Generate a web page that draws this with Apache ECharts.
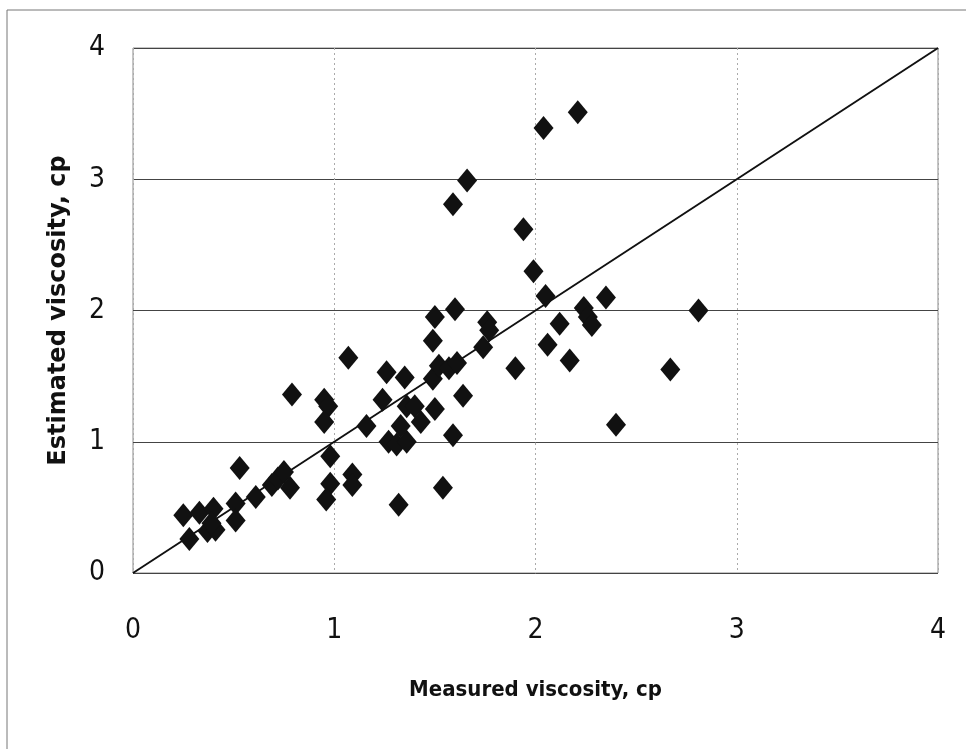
<!DOCTYPE html>
<html>
<head>
<meta charset="utf-8">
<script src="https://cdn.jsdelivr.net/npm/echarts@6/dist/echarts.min.js"></script>
<style>
  html, body { margin: 0; padding: 0; background: #fff; }
</style>
</head>
<body>
<div id="main" style="width: 966px; height: 749px;"></div>
<script>
// measured vs estimated viscosity, cp
var measured = [
  0.28, 0.25, 0.33, 0.40, 0.37, 0.41, 0.39, 0.51, 0.51, 0.53, 0.61, 0.69, 0.72, 0.75, 0.78, 0.79,
  0.95, 0.97, 0.95, 0.98, 0.98, 0.96, 1.09, 1.09, 1.07, 1.16, 1.24, 1.26, 1.35, 1.27, 1.31, 1.36,
  1.33, 1.36, 1.40, 1.43, 1.32, 1.49, 1.52, 1.50, 1.57, 1.61, 1.64, 1.59, 1.54, 1.49, 1.50, 1.60,
  1.74, 1.76, 1.77, 1.90, 2.06, 2.05, 1.99, 2.12, 2.04, 2.21, 1.94, 2.35, 2.24, 2.26, 2.28, 2.17,
  2.67, 2.81, 1.66, 1.59, 2.40
];
var estimated = [
  0.26, 0.44, 0.46, 0.49, 0.32, 0.33, 0.38, 0.53, 0.40, 0.80, 0.58, 0.67, 0.72, 0.77, 0.65, 1.36,
  1.32, 1.27, 1.15, 0.89, 0.68, 0.56, 0.75, 0.67, 1.64, 1.12, 1.32, 1.53, 1.49, 1.00, 0.98, 1.00,
  1.12, 1.27, 1.27, 1.15, 0.52, 1.48, 1.58, 1.25, 1.56, 1.60, 1.35, 1.05, 0.65, 1.77, 1.95, 2.01,
  1.72, 1.91, 1.85, 1.56, 1.74, 2.11, 2.30, 1.90, 3.39, 3.51, 2.62, 2.10, 2.02, 1.95, 1.89, 1.62,
  1.55, 2.00, 2.99, 2.81, 1.13
];
var lineX = [0, 4];
var lineY = [0, 4];

var points = [];
for (var i = 0; i < measured.length; i++) {
  points.push([measured[i], estimated[i]]);
}
var diag = [];
for (var j = 0; j < lineX.length; j++) {
  diag.push([lineX[j], lineY[j]]);
}

var tickFont = "'Liberation Sans Narrow', 'DejaVu Sans Condensed', sans-serif";

var chart = echarts.init(document.getElementById('main'));
chart.setOption({
  animation: false,
  backgroundColor: '#fff',
  grid: {
    left: 133,
    right: 28,
    top: 48,
    bottom: 176,
    show: true,
    borderColor: '#8a8a8a',
    borderWidth: 1
  },
  graphic: [{
    type: 'rect',
    shape: { x: 7, y: 10, width: 980, height: 780 },
    style: { fill: 'none', stroke: '#777', lineWidth: 1 },
    silent: true
  }],
  xAxis: {
    type: 'value',
    min: 0,
    max: 4,
    interval: 1,
    name: 'Measured viscosity, cp',
    nameLocation: 'middle',
    nameGap: 106,
    nameTextStyle: {
      fontFamily: tickFont,
      fontWeight: 'bold',
      fontSize: 22,
      color: '#111'
    },
    axisLine: { show: false },
    axisTick: { show: false },
    axisLabel: {
      margin: 44,
      fontFamily: tickFont,
      fontSize: 28,
      color: '#111'
    },
    splitLine: { lineStyle: { color: '#aaa', type: [2, 3], width: 1 } }
  },
  yAxis: {
    type: 'value',
    min: 0,
    max: 4,
    interval: 1,
    name: 'Estimated viscosity, cp',
    nameLocation: 'middle',
    nameGap: 62,
    nameTextStyle: {
      fontFamily: "'DejaVu Sans', sans-serif",
      fontWeight: 'bold',
      fontSize: 24,
      color: '#111'
    },
    axisLine: { show: false },
    axisTick: { show: false },
    axisLabel: {
      margin: 28,
      fontFamily: tickFont,
      fontSize: 28,
      color: '#111'
    },
    splitLine: { lineStyle: { color: '#444', type: 'solid', width: 1 } }
  },
  series: [
    {
      type: 'line',
      data: diag,
      symbol: 'none',
      lineStyle: { color: '#111', width: 2 },
      z: 2
    },
    {
      type: 'scatter',
      data: points,
      symbol: 'diamond',
      symbolSize: [20, 24],
      itemStyle: { color: '#111', opacity: 1 },
      z: 3
    }
  ]
});
</script>
</body>
</html>
